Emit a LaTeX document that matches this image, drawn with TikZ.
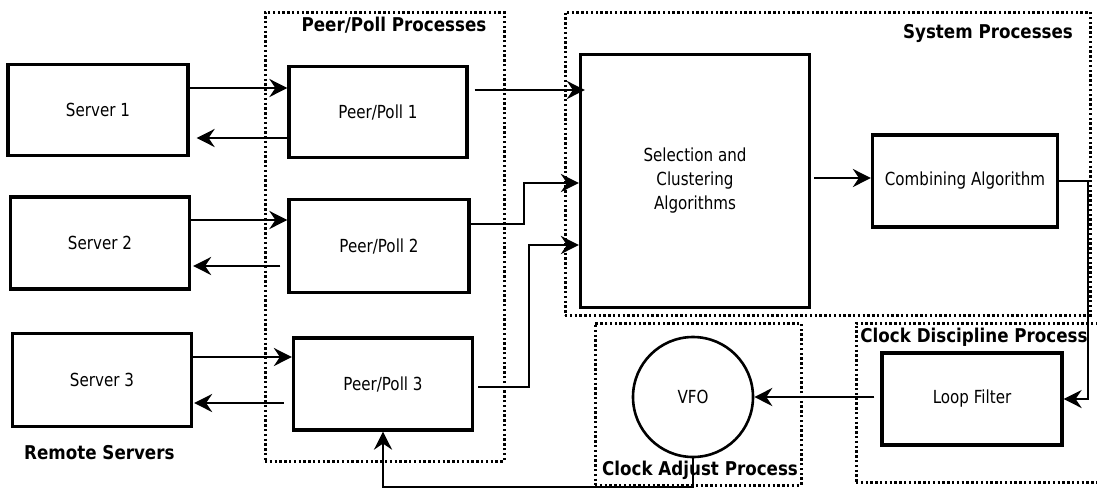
\documentclass[tikz,border=0pt]{standalone}
\usepackage{fontspec}
\newfontfamily\lblfont[FakeStretch=0.84]{DejaVu Sans}
\newfontfamily\ttlfont[FakeStretch=0.88]{DejaVu Sans Bold}
\usetikzlibrary{arrows.meta}

\begin{document}
\begin{tikzpicture}[x=1pt,y=-1pt,
  blk/.style={draw,line width=3.2pt,inner sep=0pt,align=center,
    font=\lblfont\fontsize{18}{24}\selectfont},
  grp/.style={draw,line width=3pt,dash pattern=on 2.4pt off 2.4pt,inner sep=0pt},
  ttl/.style={inner sep=0pt,font=\ttlfont\fontsize{19}{22}\selectfont},
  arr/.style={line width=2.6pt,-{Stealth[length=18pt,width=18pt,inset=6pt]}}]
\useasboundingbox (0,0) rectangle (1097,488);
\clip (0,0) rectangle (1097,488);

% process groups (dotted frames)
\node[grp,minimum width=239pt,minimum height=449pt] (gpeer) at (384.5,236.5) {};
\node[grp,minimum width=525pt,minimum height=303pt] (gsys) at (827.5,163.5) {};
\node[grp,minimum width=206pt,minimum height=162pt] (gadj) at (698,404) {};
\node[grp,minimum width=260pt,minimum height=159pt] (gdis) at (986,402.5) {};

% group titles
\node[ttl] (tpeer) at (394,25) {Peer/Poll Processes};
\node[ttl] (tsys) at (988,33) {System Processes};
\node[ttl] (tadj) at (700,470) {Clock Adjust Process};
\node[ttl] (tdis) at (974,337) {Clock Discipline Process};
\node[ttl,anchor=west] (tremote) at (24,453) {Remote Servers};

% remote servers
\node[blk,minimum width=180pt,minimum height=91pt] (s1) at (98,110) {Server 1};
\node[blk,minimum width=179pt,minimum height=92pt] (s2) at (100,243) {Server 2};
\node[blk,minimum width=179pt,minimum height=93pt] (s3) at (102,380) {Server 3};

% peer/poll processes
\node[blk,minimum width=178pt,minimum height=91pt] (p1) at (378,112) {Peer/Poll 1};
\node[blk,minimum width=180pt,minimum height=93pt] (p2) at (379,246) {Peer/Poll 2};
\node[blk,minimum width=179pt,minimum height=92pt] (p3) at (383,384) {Peer/Poll 3};

% system processes
\node[blk,minimum width=229pt,minimum height=253pt] (sel) at (695,181)
  {Selection and\\Clustering\\Algorithms};
\node[blk,minimum width=185pt,minimum height=92pt] (comb) at (965,181) {Combining Algorithm};

% clock discipline and adjust
\node[blk,minimum width=180pt,minimum height=92pt] (lf) at (972,399) {Loop Filter};
\node[blk,circle,line width=2.6pt,minimum size=120pt] (vfo) at (693,397) {VFO};

% server <-> peer exchanges
\draw[arr] ([yshift=22pt]s1.east) -- ([yshift=22pt]s1.east -| p1.west);
\draw[arr] ([yshift=-28pt]s1.east -| p1.west) -- ([yshift=-28pt,xshift=7pt]s1.east);
\draw[arr] ([yshift=23pt]s2.east) -- ([yshift=23pt]s2.east -| p2.west);
\draw[arr] ([yshift=-23pt,xshift=-7pt]s2.east -| p2.west) -- ([yshift=-23pt,xshift=2pt]s2.east);
\draw[arr] ([yshift=23pt]s3.east) -- ([yshift=23pt]s3.east -| p3.west);
\draw[arr] ([yshift=-23pt,xshift=-8pt]s3.east -| p3.west) -- ([yshift=-23pt,xshift=1pt]s3.east);

% peers into selection
\coordinate (k2) at (524,224);
\coordinate (k3) at (529,387);
\draw[arr] ([yshift=22pt,xshift=6pt]p1.east) -- ([yshift=22pt,xshift=6pt]p1.east -| sel.west);
\draw[arr] ([yshift=22pt]p2.east) -- (k2) |- ([yshift=-2pt]sel.west);
\draw[arr] ([yshift=-3pt,xshift=4pt]p3.east) -- (k3) |- ([yshift=-64pt]sel.west);

% selection -> combining -> loop filter -> VFO
\draw[arr] ([yshift=3pt,xshift=3pt]sel.east) -- ([yshift=3pt]sel.east -| comb.west);
\coordinate (k4) at (1088,181);
\draw[arr] (comb.east) -- (k4) |- (lf.east);
\draw[arr] ([yshift=2pt,xshift=-6pt]lf.west) -- ([yshift=2pt]lf.west -| vfo.east);

% VFO feedback into peer/poll 3
\coordinate (k5) at (693,487);
\coordinate (k6) at (383,487);
\draw[arr] (vfo.south) -- (k5) -- (k6) -- (p3.south);
\end{tikzpicture}
\end{document}
